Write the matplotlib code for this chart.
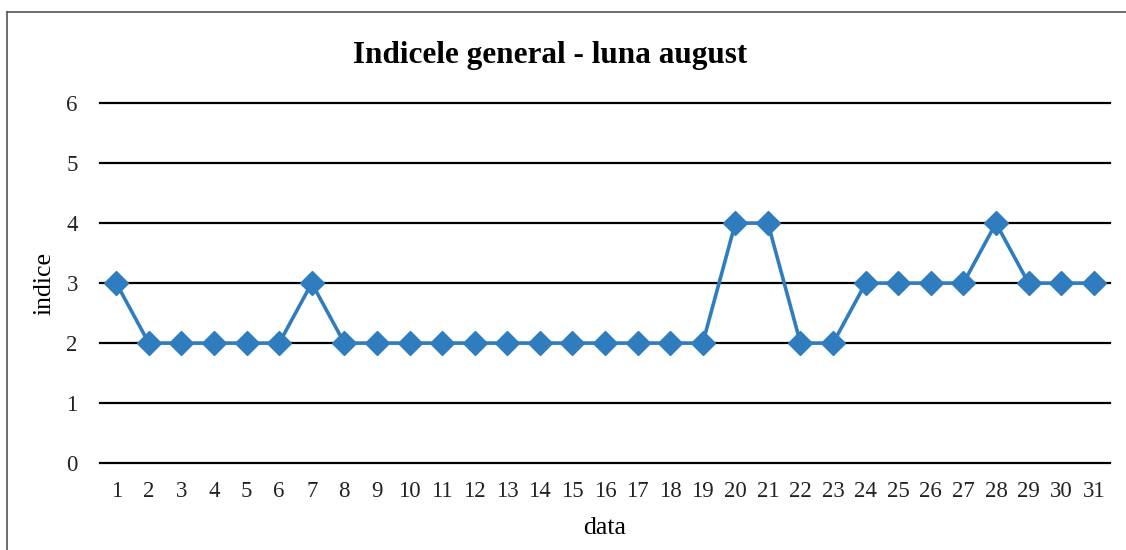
import matplotlib
matplotlib.use("Agg")
import matplotlib.pyplot as plt
from matplotlib.lines import Line2D

days = list(range(1, 32))
values = [3, 2, 2, 2, 2, 2, 3, 2, 2, 2, 2, 2, 2, 2, 2, 2, 2, 2, 2, 4, 4, 2, 2, 3, 3, 3, 3, 4, 3, 3, 3]
yticks = [0, 1, 2, 3, 4, 5, 6]
title = "Indicele general - luna august"

plt.rcParams['font.family'] = ['Liberation Serif', 'DejaVu Serif']

fig = plt.figure(figsize=(11.26, 5.5), dpi=100)
ax = fig.add_axes([0.0888, 0.158, 0.897, 0.6545])

ax.plot(days, values, color='#2f7dbf', linewidth=2.6, marker='D', markersize=12.5,
        markerfacecolor='#2f7dbf', markeredgecolor='#2f7dbf', zorder=3, clip_on=False)

ax.set_xlim(0.5, 31.5)
ax.set_ylim(0, 6)
ax.set_yticks(yticks)
ax.set_xticks(days)
ax.set_xticklabels([str(d) for d in days])
ax.tick_params(axis='both', length=0, labelsize=16.5, colors='#222222')
ax.tick_params(axis='y', pad=16)
ax.tick_params(axis='x', pad=13)
for s in ax.spines.values():
    s.set_visible(False)
ax.yaxis.grid(True, color='black', linewidth=1.6)
ax.set_axisbelow(True)
for gl in ax.get_ygridlines():
    gl.set_clip_on(False)

ax.set_xlabel('data', fontsize=18.5, labelpad=11)
ax.set_ylabel('indice', fontsize=18.5, labelpad=8)
fig.text(0.489, 0.9, title, ha='center', va='center', fontsize=22.5, fontweight='bold')

fig.add_artist(Line2D([0.0065, 0.0065], [0.0, 0.978], transform=fig.transFigure,
                      color='#555555', linewidth=1.2))
fig.add_artist(Line2D([0.0065, 1.0], [0.978, 0.978], transform=fig.transFigure,
                      color='#555555', linewidth=1.2))

fig.savefig('out.png', dpi=100)
